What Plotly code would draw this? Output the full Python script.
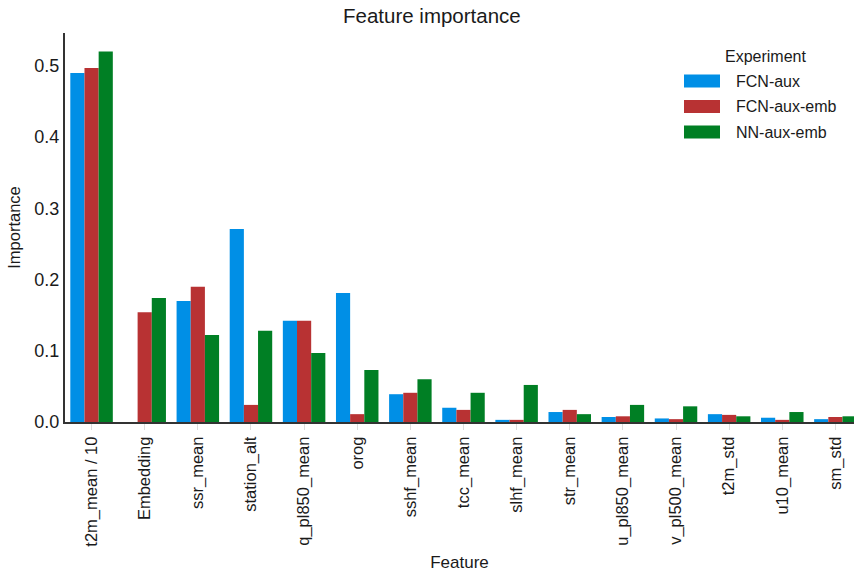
import plotly.graph_objects as go

features = ["t2m_mean / 10", "Embedding", "ssr_mean", "station_alt", "q_pl850_mean", "orog",
            "sshf_mean", "tcc_mean", "slhf_mean", "str_mean", "u_pl850_mean", "v_pl500_mean",
            "t2m_std", "u10_mean", "sm_std"]
fcn_aux = [0.490, 0.0, 0.170, 0.271, 0.142, 0.181, 0.039, 0.020, 0.003, 0.014, 0.007, 0.005, 0.011, 0.006, 0.004]
fcn_aux_emb = [0.497, 0.154, 0.190, 0.024, 0.142, 0.011, 0.041, 0.017, 0.003, 0.017, 0.008, 0.004, 0.010, 0.003, 0.007]
nn_aux_emb = [0.520, 0.174, 0.122, 0.128, 0.097, 0.073, 0.060, 0.041, 0.052, 0.011, 0.024, 0.022, 0.008, 0.014, 0.008]

series = [("FCN-aux", fcn_aux, "#008FE6"),
          ("FCN-aux-emb", fcn_aux_emb, "#B83233"),
          ("NN-aux-emb", nn_aux_emb, "#007F24")]

FONT = "Liberation Sans, Arial, sans-serif"
TXT = "#1a1a1a"
W, H = 854, 572
ML, MR, MT, MB = 65, 0, 33, 150
PW, PH = W - ML - MR, H - MT - MB

def px_x(x):
    return (x - ML) / PW

def px_y(y):
    return (H - MB - y) / PH

fig = go.Figure()
for name, vals, col in series:
    fig.add_trace(go.Bar(x=list(range(len(features))), y=vals, name=name,
                         marker=dict(color=col, line=dict(width=0)), showlegend=False))

# custom legend (wide swatches like the reference)
shapes = []
annotations = [dict(text="Experiment", x=px_x(765), y=px_y(56), xref="paper", yref="paper",
                    xanchor="center", yanchor="middle", showarrow=False,
                    font=dict(size=16, color=TXT))]
for i, (name, vals, col) in enumerate(series):
    yc = 81 + i * 25.5
    shapes.append(dict(type="rect", xref="paper", yref="paper",
                       x0=px_x(684), x1=px_x(720), y0=px_y(yc - 6.5), y1=px_y(yc + 6.5),
                       fillcolor=col, line=dict(width=0)))
    annotations.append(dict(text=name, x=px_x(734), y=px_y(yc), xref="paper", yref="paper",
                            xanchor="left", yanchor="middle", showarrow=False,
                            font=dict(size=16, color=TXT)))

fig.update_layout(
    width=W, height=H,
    margin=dict(l=ML, r=MR, t=MT, b=MB, autoexpand=False),
    paper_bgcolor="white", plot_bgcolor="white",
    barmode="group", bargap=0.2, bargroupgap=0,
    font=dict(family=FONT, size=16, color=TXT),
    showlegend=False,
    title=dict(text="Feature importance", x=px_x(464), xanchor="center",
               y=1 - 16 / H, yanchor="middle", font=dict(size=20.5, color=TXT)),
    shapes=shapes, annotations=annotations,
    xaxis=dict(tickmode="array", tickvals=list(range(len(features))), ticktext=features,
               range=[-0.5, 14.35], tickangle=-90, showgrid=False, zeroline=False,
               showline=True, linecolor="#333333", linewidth=2, automargin=False,
               ticks="outside", ticklen=6, tickcolor="#dddddd", tickwidth=1,
               tickfont=dict(size=16.5, color=TXT),
               title=dict(text="Feature", font=dict(size=17, color=TXT), standoff=15)),
    yaxis=dict(range=[0, 0.546], tickvals=[0, 0.1, 0.2, 0.3, 0.4, 0.5], tickformat=".1f",
               showgrid=False, zeroline=False, showline=True, linecolor="#333333", linewidth=2,
               ticks="", tickfont=dict(size=18, color=TXT), automargin=False,
               title=dict(text="Importance", font=dict(size=16.5, color=TXT), standoff=10)),
)
fig.write_html("out.html", config={"displayModeBar": False},
               post_script="document.body.style.margin='0';document.body.style.overflow='hidden';")
